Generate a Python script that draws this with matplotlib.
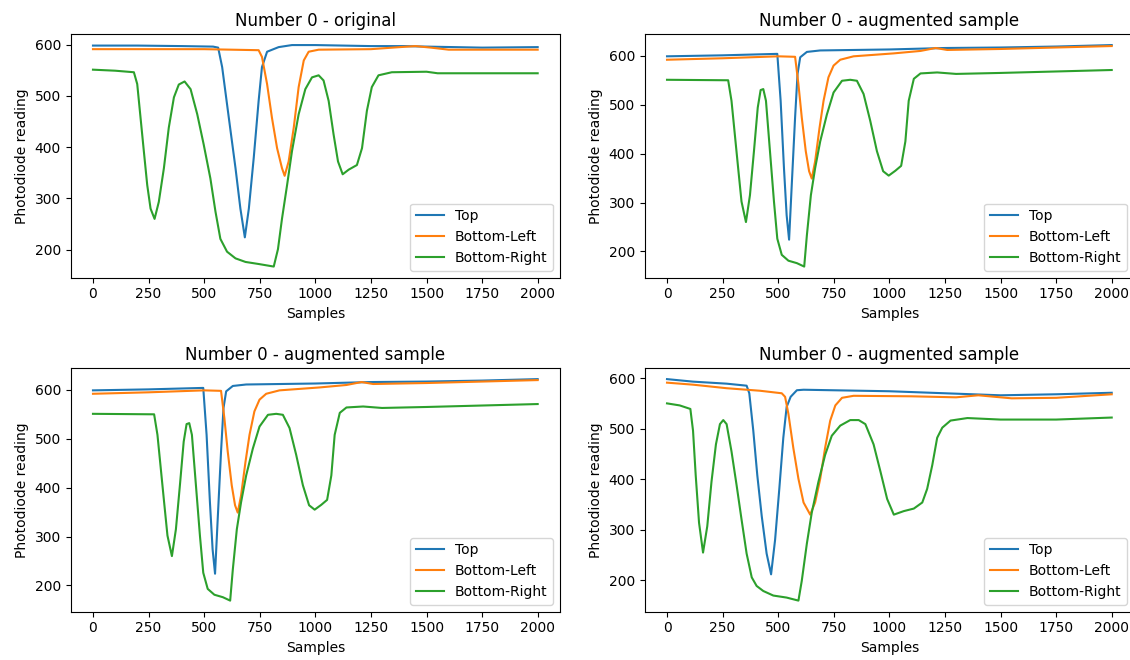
import matplotlib
matplotlib.use("Agg")
import matplotlib.pyplot as plt

# Lecturas (muestra, valor del fotodiodo)
titulos = ["Number 0 - original", "Number 0 - augmented sample",
           "Number 0 - augmented sample", "Number 0 - augmented sample"]
etiquetas = ["Top", "Bottom-Left", "Bottom-Right"]

# --- original ---
orig_top_x = [0, 200, 400, 540, 563, 581, 611, 641, 663, 683, 701, 723, 745, 760, 783, 835, 895, 1000, 1250, 1400, 1500, 1750, 2000]
orig_top_y = [598, 598, 597, 596, 594, 556, 457, 359, 280, 224, 280, 379, 490, 556, 586, 595, 599, 599, 597, 597, 596, 594, 595]
orig_bl_x = [0, 250, 500, 745, 760, 783, 805, 828, 850, 862, 880, 903, 925, 948, 970, 1015, 1250, 1380, 1450, 1520, 1600, 2000]
orig_bl_y = [591, 591, 591, 589, 576, 523, 457, 398, 359, 344, 372, 438, 517, 569, 586, 590, 591, 595, 597, 594, 590, 590]
orig_br_x = [0, 100, 184, 199, 214, 229, 244, 259, 277, 296, 319, 341, 364, 386, 412, 439, 469, 498, 528, 551, 573, 603, 641,
             686, 745, 813, 832, 850, 873, 895, 925, 955, 985, 1015, 1037, 1060, 1082, 1102, 1123, 1150, 1187, 1210, 1232,
             1254, 1284, 1344, 1500, 1550, 1750, 2000]
orig_br_y = [551, 549, 546, 523, 457, 391, 326, 280, 260, 293, 359, 438, 497, 522, 528, 513, 464, 405, 339, 274, 221, 196, 183,
             176, 172, 167, 201, 260, 326, 392, 464, 513, 536, 540, 530, 490, 425, 372, 347, 356, 365, 398, 471,
             517, 540, 546, 547, 544, 544, 544]

# --- aumentada A (aparece dos veces) ---
augA_top_x = [0, 250, 496, 511, 526, 538, 549, 561, 576, 587, 599, 629, 689, 1000, 1250, 1500, 1750, 2000]
augA_top_y = [599, 601, 604, 508, 370, 274, 224, 336, 474, 563, 597, 608, 611, 613, 616, 617, 619, 622]
augA_bl_x = [0, 250, 500, 576, 591, 606, 624, 639, 651, 666, 686, 704, 726, 749, 779, 839, 1020, 1140, 1208, 1260, 1500, 1750, 2000]
augA_bl_y = [592, 595, 599, 598, 542, 474, 405, 364, 349, 384, 453, 508, 556, 580, 592, 599, 605, 610, 616, 612, 614, 617, 620]
augA_br_x = [0, 275, 290, 305, 320, 335, 355, 373, 391, 408, 421, 433, 445, 463, 481, 496, 516, 546, 584, 617, 629, 647, 666,
             689, 719, 749, 787, 824, 854, 884, 914, 944, 972, 997, 1027, 1053, 1072, 1087, 1110, 1140, 1215, 1300, 1500,
             1750, 2000]
augA_br_y = [551, 550, 508, 439, 370, 302, 260, 315, 405, 494, 530, 532, 508, 405, 302, 226, 193, 181, 176, 169, 233, 315, 370,
             425, 480, 525, 549, 551, 549, 522, 467, 405, 364, 355, 365, 375, 425, 508, 553, 564, 566, 563, 565,
             568, 571]

# --- aumentada B ---
augB_top_x = [0, 117, 268, 358, 370, 388, 406, 426, 448, 468, 486, 505, 523, 538, 556, 584, 614, 1000, 1250, 1500, 1750, 2000]
augB_top_y = [598, 593, 589, 585, 570, 496, 408, 327, 253, 212, 280, 381, 482, 543, 563, 576, 577, 574, 570, 566, 568, 571]
augB_bl_x = [0, 117, 268, 418, 516, 531, 546, 568, 591, 614, 644, 666, 689, 711, 734, 757, 787, 839, 1100, 1300, 1400, 1550, 1750, 2000]
augB_bl_y = [591, 587, 580, 575, 570, 563, 529, 462, 401, 354, 330, 354, 401, 462, 516, 546, 561, 565, 564, 562, 566, 560, 561, 568]
augB_br_x = [0, 57, 105, 117, 129, 144, 162, 181, 200, 220, 238, 253, 268, 290, 313, 335, 358, 381, 403, 433, 478, 538, 591,
             606, 629, 651, 681, 711, 741, 779, 824, 862, 892, 929, 960, 990, 1020, 1065, 1110, 1148, 1170, 1193, 1215,
             1238, 1275, 1351, 1500, 1750, 2000]
augB_br_y = [550, 546, 539, 496, 408, 314, 255, 307, 395, 469, 509, 517, 509, 455, 388, 321, 253, 206, 189, 179, 170, 166, 160,
             199, 273, 334, 395, 448, 486, 506, 517, 517, 509, 469, 415, 361, 330, 337, 342, 354, 381, 428, 482,
             502, 516, 521, 518, 518, 522]

muestras = [
    [(orig_top_x, orig_top_y), (orig_bl_x, orig_bl_y), (orig_br_x, orig_br_y)],
    [(augA_top_x, augA_top_y), (augA_bl_x, augA_bl_y), (augA_br_x, augA_br_y)],
    [(augA_top_x, augA_top_y), (augA_bl_x, augA_bl_y), (augA_br_x, augA_br_y)],
    [(augB_top_x, augB_top_y), (augB_bl_x, augB_bl_y), (augB_br_x, augB_br_y)],
]

fig, axes = plt.subplots(2, 2, figsize=(11.3, 6.6), dpi=100)
# el panel derecho queda recortado en el borde, como en la imagen original
fig.subplots_adjust(left=0.0626, right=1.0035, bottom=0.0732, top=0.9485, wspace=0.1735, hspace=0.371)

for ax, titulo, series in zip(axes.flat, titulos, muestras):
    for (xs, ys), etiqueta in zip(series, etiquetas):
        ax.plot(xs, ys, label=etiqueta)
    ax.set_title(titulo)
    ax.set_xlabel("Samples")
    ax.set_ylabel("Photodiode reading")
    ax.legend(loc="lower right")

fig.savefig("out.png")
